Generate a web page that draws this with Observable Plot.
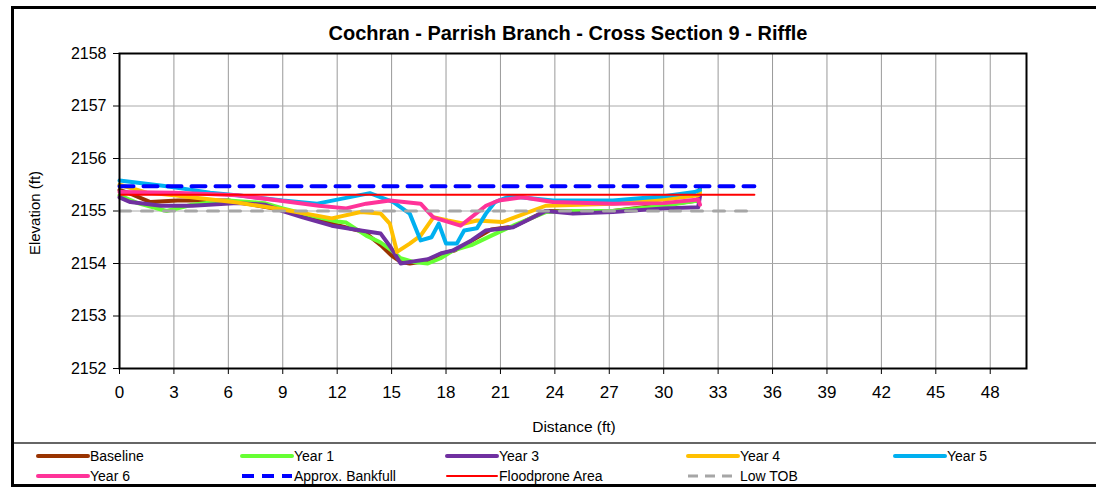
<!DOCTYPE html>
<html><head><meta charset="utf-8">
<script src="https://cdn.jsdelivr.net/npm/d3@7"></script>
<script src="https://cdn.jsdelivr.net/npm/@observablehq/plot@0.6"></script>
<style>
body{margin:0;background:#fff;font-family:"Liberation Sans",Arial,sans-serif;}
#wrap{position:relative;width:1096px;height:488px;overflow:hidden;background:#fff}
#chart{position:absolute;left:0;top:0}
#border{position:absolute;left:11px;top:6px;width:1100px;height:481px;border:3px solid #000;box-sizing:border-box;pointer-events:none}
#title{position:absolute;top:22px;left:0;width:1136px;text-align:center;font-weight:bold;font-size:20px;line-height:23px;color:#000}
#xlab{position:absolute;top:418px;left:0;width:1148px;text-align:center;font-size:15.5px;color:#000}
#ylab{position:absolute;left:34px;top:213px;font-size:15px;transform:translate(-50%,-50%) rotate(-90deg);white-space:nowrap;color:#000}
#legend{position:absolute;left:0;top:441px}
</style></head>
<body><div id="wrap">
<div id="chart"></div>
<div id="title">Cochran - Parrish Branch - Cross Section 9 - Riffle</div>
<div id="xlab">Distance (ft)</div>
<div id="ylab">Elevation (ft)</div>
<svg id="legend" width="1096" height="47"></svg>
<div id="border"></div>
</div>
<script>
// ---- data ----
const xTicks = [0,3,6,9,12,15,18,21,24,27,30,33,36,39,42,45,48];
const yTicks = [2152,2153,2154,2155,2156,2157,2158];

const baselineX = [0,0.6,1.7,3.2,6,9,10.5,12,13.5,14.4,15.0,15.5,16.0,17.0,17.7,18.5,19.5,20.5,21.7,23.5,25,27.2,30,31.9,32.0];
const baselineY = [2155.4,2155.33,2155.17,2155.2,2155.2,2155.02,2154.88,2154.73,2154.6,2154.35,2154.15,2154.03,2154.0,2154.05,2154.18,2154.25,2154.45,2154.65,2154.7,2155.0,2155.0,2155.0,2155.12,2155.2,2155.45];

const year1X = [0,1,2.6,4,6,8,9,10.5,12,12.5,13.6,14.4,15.0,15.5,16.2,17.0,17.7,18.4,19.4,20.5,21.7,23.5,25,27.2,30,31.9,32.0];
const year1Y = [2155.3,2155.15,2155.0,2155.12,2155.2,2155.15,2155.05,2154.92,2154.8,2154.78,2154.53,2154.4,2154.25,2154.1,2154.03,2154.0,2154.1,2154.25,2154.35,2154.53,2154.72,2154.98,2155.0,2155.0,2155.1,2155.2,2155.4];

const year3X = [0,0.6,2.3,4,6.5,8,9,10.1,11.7,13.3,14.4,14.95,15.5,16.2,17.0,17.7,18.4,19.4,20.2,21.7,23.5,25.0,27.2,30,31.9,32.0];
const year3Y = [2155.26,2155.17,2155.1,2155.1,2155.15,2155.12,2155.0,2154.88,2154.72,2154.63,2154.57,2154.31,2154.0,2154.04,2154.08,2154.19,2154.25,2154.44,2154.63,2154.69,2155.0,2154.95,2154.98,2155.05,2155.07,2155.28];

const year4X = [0,1.5,3,6.5,9.0,11.7,13.3,14.4,14.9,15.3,16.0,16.6,17.3,18.1,19.0,19.7,21.1,23.5,27.2,30,31.9,32.0];
const year4Y = [2155.5,2155.35,2155.3,2155.16,2155.03,2154.86,2154.98,2154.95,2154.76,2154.22,2154.38,2154.53,2154.88,2154.82,2154.76,2154.82,2154.79,2155.1,2155.14,2155.22,2155.3,2155.35];

const year5X = [0,2.6,5,7,9,10.9,13.8,15.1,16.0,16.6,17.2,17.6,18.0,18.6,19.0,19.7,20.2,20.7,21.5,23.9,27.2,30,31.7,32.0];
const year5Y = [2155.58,2155.47,2155.35,2155.28,2155.2,2155.14,2155.34,2155.17,2154.95,2154.44,2154.5,2154.76,2154.38,2154.38,2154.63,2154.67,2154.95,2155.17,2155.28,2155.2,2155.2,2155.28,2155.36,2155.4];

const year6X = [0,3,6.5,9.0,11.0,12.5,13.6,14.9,16.6,17.3,18.8,20.2,20.9,22.2,23.9,27.2,30,31.9,32.0];
const year6Y = [2155.36,2155.35,2155.3,2155.19,2155.1,2155.05,2155.14,2155.2,2155.14,2154.88,2154.72,2155.1,2155.2,2155.26,2155.17,2155.14,2155.15,2155.22,2155.12];

const refX = [0,35];
const bankfullY = 2155.47;
const floodproneY = 2155.31;
const lowTobY = 2155.0;

// ---- series table ----
const series = [
  {name:"Baseline", xs:baselineX, ys:baselineY, color:"#993300", width:4, dash:null},
  {name:"Year 1", xs:year1X, ys:year1Y, color:"#66ff33", width:4, dash:null},
  {name:"Year 3", xs:year3X, ys:year3Y, color:"#7030a0", width:4, dash:null},
  {name:"Year 4", xs:year4X, ys:year4Y, color:"#ffc000", width:4, dash:null},
  {name:"Year 5", xs:year5X, ys:year5Y, color:"#00b0f0", width:4, dash:null},
  {name:"Year 6", xs:year6X, ys:year6Y, color:"#ff3399", width:4, dash:null},
];
const refs = [
  {name:"Approx. Bankfull", xs:refX, ys:[bankfullY,bankfullY], color:"#0000ff", width:4, dash:"14,10"},
  {name:"Floodprone Area", xs:refX, ys:[floodproneY,floodproneY], color:"#ff0000", width:2, dash:null},
  {name:"Low TOB", xs:refX, ys:[lowTobY,lowTobY], color:"#a6a6a6", width:3, dash:"11,11"},
];
const toRows = s => s.xs.map((x,i)=>({x, y:s.ys[i]}));

const marks = [
  Plot.gridX(xTicks, {stroke:"#999", strokeOpacity:1, strokeWidth:1}),
  Plot.gridY(yTicks, {stroke:"#aaa", strokeOpacity:1, strokeWidth:1}),
  Plot.axisX(xTicks, {tickSize:6, tickPadding:11, fontSize:17, label:null, stroke:"#000"}),
  Plot.axisY(yTicks, {tickSize:6, tickPadding:7, fontSize:16, label:null, stroke:"#000", tickFormat:d=>String(d)}),
];
for (const s of series) {
  marks.push(Plot.line(toRows(s), {x:"x", y:"y", stroke:s.color, strokeWidth:s.width, strokeLinejoin:"round", strokeLinecap:"round"}));
}
for (const s of refs) {
  marks.push(Plot.line(toRows(s), {x:"x", y:"y", stroke:s.color, strokeWidth:s.width, strokeDasharray:s.dash || undefined}));
}
marks.push(Plot.frame({stroke:"#000", strokeWidth:2}));

const chart = Plot.plot({
  width:1096, height:440,
  marginLeft:119, marginRight:70, marginTop:53, marginBottom:72,
  x:{domain:[0,50]},
  y:{domain:[2152,2158]},
  style:{fontFamily:"'Liberation Sans', Arial, sans-serif", color:"#000", background:"transparent"},
  marks
});
document.getElementById("chart").appendChild(chart);

// ---- legend ----
const leg = d3.select("#legend");
leg.append("line").attr("x1",12).attr("x2",1096).attr("y1",2).attr("y2",2).attr("stroke","#666").attr("stroke-width",2);
const colX = [38,242,447,688,895];
const all = [...series, ...refs];
all.forEach((s,i)=>{
  const row = i < 5 ? 0 : 1;
  const col = i < 5 ? i : i-5;
  const y = row === 0 ? 15 : 35;
  const x0 = colX[col];
  leg.append("line").attr("x1",x0).attr("x2",x0+50).attr("y1",y).attr("y2",y)
    .attr("stroke",s.color).attr("stroke-width",s.width)
    .attr("stroke-dasharray",s.dash ? (s.name==="Low TOB" ? "10,7" : "12,8") : null)
    .attr("stroke-linecap", s.dash ? "butt" : "round");
  leg.append("text").attr("x",x0+52).attr("y",y).attr("dy","0.35em")
    .attr("font-size",14).attr("font-family","'Liberation Sans', Arial, sans-serif").attr("fill","#000").text(s.name);
});
</script>
</body></html>
